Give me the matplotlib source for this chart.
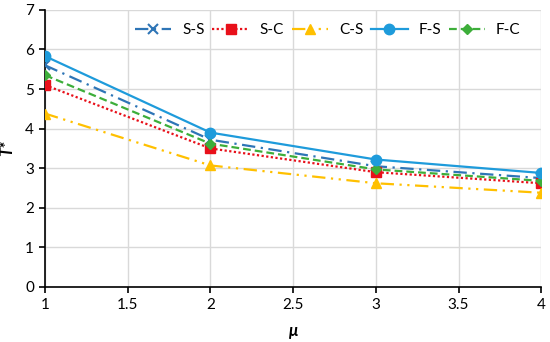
import matplotlib
matplotlib.use("Agg")
import matplotlib.pyplot as plt

plt.rcParams['font.family'] = ['Lato', 'DejaVu Sans']

mu = [1, 2, 3, 4]
labels = ['S-S', 'S-C', 'C-S', 'F-S', 'F-C']
t_ss = [5.60, 3.72, 3.05, 2.75]
t_sc = [5.10, 3.50, 2.90, 2.62]
t_cs = [4.38, 3.07, 2.62, 2.38]
t_fs = [5.83, 3.90, 3.22, 2.88]
t_fc = [5.35, 3.62, 2.97, 2.68]

xticks = [1, 1.5, 2, 2.5, 3, 3.5, 4]
xticklabels = ['1', '1.5', '2', '2.5', '3', '3.5', '4']
yticks = [0, 1, 2, 3, 4, 5, 6, 7]

fig = plt.figure(figsize=(5.5, 3.42), dpi=100)
ax = fig.add_axes([0.082, 0.161, 0.902, 0.81])

lw = 1.6
ax.plot(mu, t_ss, color='#2E75B6', lw=lw, dashes=(6, 2.5, 1, 2.5),
        marker='x', ms=7, mew=1.5, label=labels[0], zorder=3)
ax.plot(mu, t_sc, color='#E8101A', lw=lw, dashes=(1, 1.1),
        marker='s', ms=7, label=labels[1], zorder=3)
ax.plot(mu, t_cs, color='#FFC000', lw=lw, dashes=(6, 2.5, 1, 2.5, 1, 2.5),
        marker='^', ms=7.5, label=labels[2], zorder=3)
ax.plot(mu, t_fs, color='#1E9BDB', lw=lw, ls='-',
        marker='o', ms=7.5, label=labels[3], zorder=4)
ax.plot(mu, t_fc, color='#3DAE3A', lw=lw, dashes=(3.5, 1.8),
        marker='D', ms=5.5, label=labels[4], zorder=3)

ax.set_xlim(1, 4)
ax.set_ylim(0, 7)
ax.set_xticks(xticks)
ax.set_xticklabels(xticklabels)
ax.set_yticks(yticks)
ax.grid(True, color='#d9d9d9', lw=1)
ax.set_axisbelow(True)
for s in ['top', 'right']:
    ax.spines[s].set_visible(False)
for s in ['left', 'bottom']:
    ax.spines[s].set_color('black')
    ax.spines[s].set_linewidth(1.2)
ax.tick_params(axis='both', direction='out', length=4, width=1.2,
               labelsize=11, colors='black', pad=4)

ax.set_xlabel('μ', fontsize=12, fontstyle='italic', fontweight='bold')
ax.set_ylabel('T*', fontsize=12, fontstyle='italic', fontweight='bold')
ax.xaxis.set_label_coords(0.5, -0.13)
ax.yaxis.set_label_coords(-0.06, 0.5)

leg = fig.legend(loc='center left', ncol=5, frameon=False, fontsize=11,
                 handlelength=2.4, columnspacing=0.5, handletextpad=0.7,
                 bbox_to_anchor=(0.245, 0.912), borderaxespad=0, borderpad=0)

fig.savefig('out.png', dpi=100)
